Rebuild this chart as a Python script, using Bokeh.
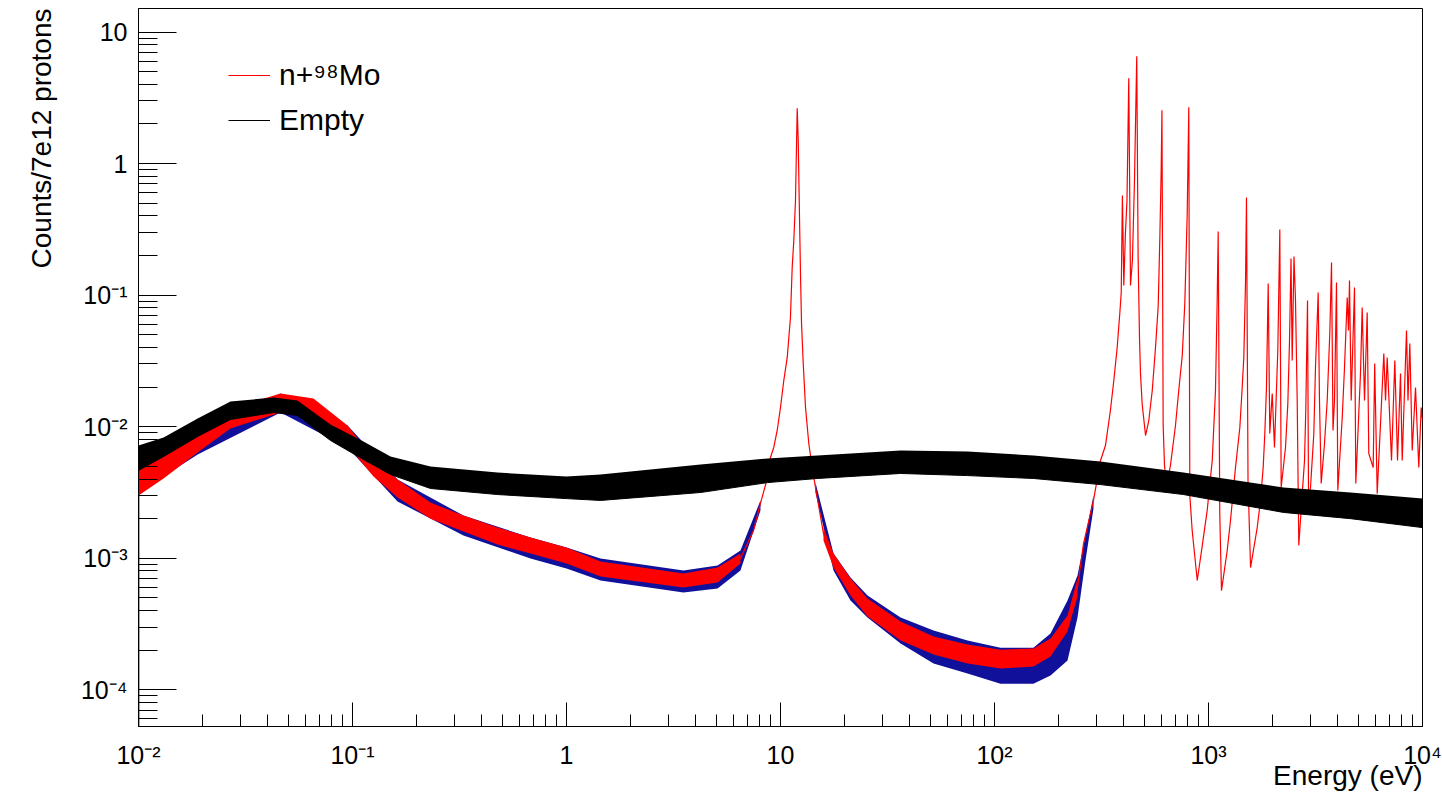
from bokeh.plotting import figure
from bokeh.models import Range1d, FixedTicker, Legend, LegendItem, ColumnDataSource, Title
from bokeh.embed import file_html
from bokeh.resources import INLINE

# ---------------- data ----------------
# Empty target: noisy band (upper / lower envelope)
black_E = [0.01, 0.0131, 0.0189, 0.0269, 0.0428, 0.0553, 0.0789, 0.1125, 0.1505, 0.2314,
           0.476, 1.0, 1.442, 4.23, 8.70, 14.9, 36.4, 74.8, 152, 313, 764, 2241, 4609, 10000]
black_hi = [7.19e-3, 8.28e-3, 1.155e-2, 1.554e-2, 1.667e-2, 1.582e-2, 1.039e-2, 7.72e-3, 5.93e-3,
            4.98e-3, 4.48e-3, 4.18e-3, 4.33e-3, 5.16e-3, 5.73e-3, 6.04e-3, 6.59e-3, 6.48e-3,
            6.04e-3, 5.44e-3, 4.48e-3, 3.45e-3, 3.16e-3, 2.84e-3]
black_lo = [4.65e-3, 5.93e-3, 8.42e-3, 1.134e-2, 1.282e-2, 1.217e-2, 7.86e-3, 5.63e-3, 4.33e-3,
            3.39e-3, 3.05e-3, 2.84e-3, 2.75e-3, 3.16e-3, 3.76e-3, 4.04e-3, 4.41e-3, 4.25e-3,
            4.04e-3, 3.63e-3, 3.05e-3, 2.23e-3, 2.00e-3, 1.71e-3]

# n+98Mo: histogram trace (smooth part + 12 eV resonance)
mo_E = [0.01, 0.0131, 0.0189, 0.0269, 0.0461, 0.0657, 0.0948, 0.1253, 0.1623, 0.2314, 0.330,
        0.476, 0.679, 1.0, 1.442, 3.52, 5.08, 6.50, 7.48, 8.06, 8.70, 8.98, 9.30, 9.65, 10.0,
        10.36, 10.75, 11.13, 11.34, 11.54, 11.75, 11.97, 12.10, 12.27, 12.40, 12.54, 12.77,
        13.09, 13.56, 14.06, 14.57, 15.88, 17.69, 21.24, 25.50, 36.4, 51.9, 74.8, 106.7, 152,
        182.7, 219.4, 244.3, 260.6, 290.1]
mo_Y = [3.90e-3, 4.89e-3, 7.58e-3, 1.175e-2, 1.528e-2, 1.375e-2, 8.57e-3, 4.89e-3, 3.39e-3,
        2.31e-3, 1.836e-3, 1.488e-3, 1.249e-3, 1.048e-3, 8.35e-4, 6.77e-4, 7.38e-4, 9.95e-4,
        1.624e-3, 2.61e-3, 4.11e-3, 5.83e-3, 6.95e-3, 9.36e-3, 1.400e-2, 2.246e-2, 3.36e-2,
        6.77e-2, 0.1624, 0.2606, 0.525, 2.63, 1.501, 0.390, 0.1462, 6.09e-2, 3.02e-2, 1.400e-2,
        7.45e-3, 4.89e-3, 3.45e-3, 1.541e-3, 9.61e-4, 5.99e-4, 4.22e-4, 2.82e-4, 2.17e-4,
        1.885e-4, 1.727e-4, 1.757e-4, 2.09e-4, 3.19e-4, 5.99e-4, 1.294e-3, 2.75e-3]

# n+98Mo: resolved resonance region (peaks and valleys)
res_E = [313, 330, 348, 361, 374, 385, 391, 396, 402, 409, 416, 424, 432, 441, 451, 462, 469,
         476, 481, 490, 508, 526, 546, 565, 582, 592, 601, 606, 614, 623, 636, 664, 701, 726,
         754, 775, 795, 809, 818, 839, 886, 935, 986, 1041, 1078, 1098, 1110, 1129, 1150, 1223,
         1267, 1337, 1401, 1437, 1462, 1489, 1505, 1530, 1572, 1689, 1750, 1801, 1833, 1866,
         1901, 1934, 1985, 2034, 2108, 2154, 2186, 2290, 2348, 2391, 2430, 2461, 2509, 2550,
         2597, 2642, 2741, 2810, 2850, 2902, 2934, 2997, 3106, 3162, 3255, 3301, 3362, 3484,
         3587, 3688, 3757, 3818, 3880, 3964, 4020, 4216, 4321, 4448, 4510, 4559, 4643, 4811,
         4879, 5131, 5225, 5358, 5515, 5611, 5883, 5979, 6142, 6596, 6718, 6839, 7164, 7424,
         7642, 7893, 8038, 8419, 8556, 8725, 8953, 9276, 9610, 9860, 10000]
res_Y = [5.53e-3, 7.19e-3, 1.328e-2, 2.246e-2, 3.93e-2, 7.26e-2, 0.1048, 0.573, 0.1185, 0.2945,
         0.525, 4.45, 0.1185, 0.1836, 0.745, 6.54, 0.1935, 4.68e-2, 2.54e-2, 1.475e-2, 8.57e-3,
         1.114e-2, 1.885e-2, 3.93e-2, 8.21e-2, 0.2606, 0.888, 2.54, 1.021e-2, 5.07e-3, 3.57e-3,
         5.07e-3, 1.021e-2, 1.885e-2, 3.48e-2, 8.65e-2, 0.404, 2.68, 3.00e-3, 1.624e-3, 6.77e-4,
         1.249e-3, 2.31e-3, 5.53e-3, 1.885e-2, 9.11e-2, 0.305, 2.19e-3, 5.68e-4, 1.145e-3,
         1.935e-3, 4.89e-3, 9.86e-3, 1.987e-2, 3.36e-2, 0.1227, 0.553, 3.90e-3, 8.50e-4,
         1.712e-3, 2.75e-3, 4.89e-3, 8.88e-3, 1.987e-2, 0.1227, 8.88e-3, 1.789e-2, 6.95e-3,
         3.80e-2, 0.316, 3.45e-3, 6.95e-3, 1.501e-2, 4.52e-2, 0.190, 3.19e-2, 0.197, 9.11e-2,
         1.582e-2, 1.249e-3, 3.10e-3, 5.53e-3, 1.400e-2, 9.11e-2, 2.75e-3, 3.45e-3, 8.88e-3,
         2.82e-2, 0.1048, 1.582e-2, 3.70e-3, 7.45e-3, 1.582e-2, 5.11e-2, 0.1773, 9.36e-3,
         1.582e-2, 0.1249, 3.27e-3, 1.175e-2, 2.82e-2, 9.61e-2, 5.39e-2, 0.1294, 1.582e-2,
         0.1145, 3.70e-3, 2.54e-2, 8.06e-2, 1.582e-2, 7.38e-2, 6.25e-3, 4.89e-3, 3.02e-2,
         3.10e-3, 3.60e-2, 1.582e-2, 3.36e-2, 5.53e-3, 3.19e-2, 5.53e-3, 2.54e-2, 5.53e-3,
         5.39e-2, 1.582e-2, 4.29e-2, 6.59e-3, 1.987e-2, 4.89e-3, 1.400e-2, 1.114e-2]

# n+98Mo: statistical spread of the trace (two noisy stretches)
mo_band1_E = [0.01, 0.0131, 0.0189, 0.0269, 0.0461, 0.0657, 0.0948, 0.1253, 0.1623, 0.2314,
              0.330, 0.476, 0.679, 1.0, 1.442, 3.52, 5.08, 6.50]
mo_band1_hi = [4.81e-3, 5.93e-3, 9.03e-3, 1.375e-2, 1.789e-2, 1.639e-2, 1.021e-2, 5.73e-3,
               3.97e-3, 2.65e-3, 2.11e-3, 1.712e-3, 1.437e-3, 1.206e-3, 9.44e-4, 7.65e-4,
               8.50e-4, 1.085e-3]
mo_band1_lo = [3.00e-3, 4.04e-3, 6.37e-3, 9.69e-3, 1.282e-2, 1.155e-2, 7.19e-3, 4.18e-3,
               2.89e-3, 2.00e-3, 1.596e-3, 1.271e-3, 1.085e-3, 9.11e-4, 7.26e-4, 5.99e-4,
               6.53e-4, 9.11e-4]
mo_band2_E = [15.88, 17.69, 21.24, 25.50, 36.4, 51.9, 74.8, 106.7, 152, 182.7, 219.4, 244.3]
mo_band2_hi = [1.712e-3, 1.085e-3, 7.01e-4, 4.94e-4, 3.30e-4, 2.54e-4, 2.21e-4, 2.02e-4,
               2.06e-4, 2.45e-4, 3.67e-4, 7.01e-4]
mo_band2_lo = [1.363e-3, 8.50e-4, 5.20e-4, 3.60e-4, 2.37e-4, 1.852e-4, 1.582e-4, 1.449e-4,
               1.501e-4, 1.789e-4, 2.77e-4, 5.11e-4]

# dark-blue error band behind the n+98Mo trace
err1_E = [0.01, 0.0189, 0.0461, 0.0948, 0.1623, 0.330, 0.679, 1.0, 1.442, 3.52, 5.08, 6.50, 8.06]
err1_hi = [4.98e-3, 9.03e-3, 1.789e-2, 1.021e-2, 3.97e-3, 2.11e-3, 1.437e-3, 1.206e-3, 9.95e-4,
           8.06e-4, 8.80e-4, 1.145e-3, 2.75e-3]
err1_lo = [3.16e-3, 6.15e-3, 1.282e-2, 6.95e-3, 2.70e-3, 1.488e-3, 9.95e-4, 8.35e-4, 6.77e-4,
           5.48e-4, 5.88e-4, 8.06e-4, 2.31e-3]
err2_E = [14.57, 17.69, 21.24, 25.50, 36.4, 51.9, 74.8, 106.7, 152, 182.7, 219.4, 244.3, 266.2,
          290.1]
err2_hi = [3.76e-3, 1.085e-3, 7.13e-4, 5.20e-4, 3.54e-4, 2.82e-4, 2.37e-4, 2.09e-4, 2.09e-4,
           2.68e-4, 4.77e-4, 7.38e-4, 1.488e-3, 3.00e-3]
err2_lo = [3.16e-3, 8.06e-4, 4.77e-4, 3.54e-4, 2.25e-4, 1.582e-4, 1.328e-4, 1.114e-4, 1.114e-4,
           1.282e-4, 1.668e-4, 3.54e-4, 9.61e-4, 2.39e-3]

# axes
x_ticks = [1e-2, 1e-1, 1, 10, 1e2, 1e3, 1e4]
x_tick_labels = ["10\u207b\u00b2", "10\u207b\u00b9", "1", "10", "10\u00b2", "10\u00b3", "10\u2074"]
y_ticks = [1e-4, 1e-3, 1e-2, 1e-1, 1, 10]
y_tick_labels = ["10\u207b\u2074", "10\u207b\u00b3", "10\u207b\u00b2", "10\u207b\u00b9", "1", "10"]
x_lim = (1e-2, 1e4)
y_lim = (5.26e-5, 15.1)
x_title = "Energy (eV)"
y_title = "Counts/7e12 protons"
series_names = ["n+\u2079\u2078Mo", "Empty"]

# ---------------- figure ----------------
FONT = "Liberation Sans"
RED = "#ff0000"
BLUE = "#10109a"

p = figure(width=1442, height=792, x_axis_type="log", y_axis_type="log",
           x_range=Range1d(*x_lim), y_range=Range1d(*y_lim),
           output_backend="svg", toolbar_location=None,
           min_border_left=138, min_border_right=20, min_border_top=8, min_border_bottom=66)
p.grid.visible = False
p.outline_line_color = "black"
p.outline_line_width = 1
p.background_fill_color = "white"
p.border_fill_color = "white"

mult = [2, 3, 4, 5, 6, 7, 8, 9]
x_minor = [m * t for t in x_ticks[:-1] for m in mult]
y_minor = [m * 10.0 ** e for e in range(-5, 2) for m in mult]
y_minor = [v for v in y_minor if y_lim[0] < v < y_lim[1]]

p.xaxis.ticker = FixedTicker(ticks=x_ticks, minor_ticks=x_minor)
p.yaxis.ticker = FixedTicker(ticks=y_ticks, minor_ticks=y_minor)
p.xaxis.major_label_overrides = dict(zip(x_ticks, x_tick_labels))
p.yaxis.major_label_overrides = dict(zip(y_ticks, y_tick_labels))

for ax in (p.xaxis[0], p.yaxis[0]):
    ax.axis_line_color = "black"
    ax.major_tick_line_color = "black"
    ax.minor_tick_line_color = "black"
    ax.major_tick_out = 0
    ax.minor_tick_out = 0
    ax.major_label_text_font = FONT
    ax.major_label_text_font_size = "25px"
    ax.major_label_text_color = "black"
p.xaxis.major_tick_in = 24
p.xaxis.minor_tick_in = 12
p.xaxis.major_label_standoff = 14
p.yaxis.major_tick_in = 38
p.yaxis.minor_tick_in = 19
p.yaxis.major_label_standoff = 11

# axis titles, placed at the far end of each axis as ROOT does
p.add_layout(Title(text=x_title, align="right", vertical_align="top", standoff=-24,
                   text_font=FONT, text_font_size="28px", text_font_style="normal",
                   text_color="black"), "below")
p.add_layout(Title(text=y_title, align="right", vertical_align="bottom", standoff=42,
                   text_font=FONT, text_font_size="28px", text_font_style="normal",
                   text_color="black"), "left")

# blue error bands
p.varea(x=err1_E, y1=err1_lo, y2=err1_hi, fill_color=BLUE)
p.varea(x=err2_E, y1=err2_lo, y2=err2_hi, fill_color=BLUE)
# red spread
p.varea(x=mo_band1_E, y1=mo_band1_lo, y2=mo_band1_hi, fill_color=RED)
p.varea(x=mo_band2_E, y1=mo_band2_lo, y2=mo_band2_hi, fill_color=RED)
# red trace
mo_src = ColumnDataSource(dict(E=mo_E + res_E, Y=mo_Y + res_Y))
red_line = p.line("E", "Y", source=mo_src, line_color=RED, line_width=1.2)
# histogram's first bin edge drops to zero
p.segment(x0=[mo_E[0]], y0=[mo_Y[0]], x1=[mo_E[0]], y1=[y_lim[0]], line_color=RED, line_width=2)

# empty target band
p.varea(x=black_E, y1=black_lo, y2=black_hi, fill_color="black")
black_line = p.line(black_E, black_lo, line_color="black", line_width=1)

legend = Legend(items=[LegendItem(label=series_names[0], renderers=[red_line]),
                       LegendItem(label=series_names[1], renderers=[black_line])],
                location=(90, 588))
legend.glyph_width = 42
legend.glyph_height = 36
legend.label_height = 36
legend.label_standoff = 9
legend.spacing = 9
legend.padding = 0
legend.margin = 0
legend.border_line_alpha = 0
legend.background_fill_alpha = 0
legend.label_text_font = FONT
legend.label_text_font_size = "30px"
legend.label_text_color = "black"
p.add_layout(legend)

open("out.html", "w").write(file_html(p, INLINE))
